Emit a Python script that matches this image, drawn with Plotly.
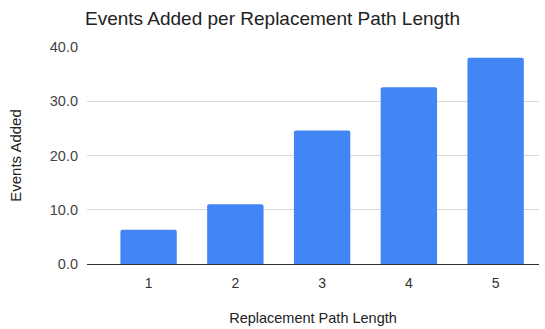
import plotly.graph_objects as go

# Chart data
path_lengths = ["1", "2", "3", "4", "5"]
events_added = [6.3, 11.0, 24.6, 32.6, 38.0]
y_tick_values = [0, 10, 20, 30, 40]

FONT = "Liberation Sans, Arial, sans-serif"

fig = go.Figure(
    go.Bar(
        x=[int(v) for v in path_lengths],
        y=events_added,
        marker=dict(color="#4285F4", line=dict(width=0), cornerradius=2),
        width=0.65,
        hoverinfo="x+y",
    )
)

fig.update_layout(
    width=545,
    height=329,
    margin=dict(l=87, r=6, t=47, b=61),
    paper_bgcolor="white",
    plot_bgcolor="white",
    showlegend=False,
    font=dict(family=FONT, size=14, color="#444444"),
    title=dict(
        text="Events Added per Replacement Path Length",
        x=0.5,
        xanchor="center",
        y=0.945,
        yanchor="middle",
        font=dict(family=FONT, size=19, color="#222222"),
    ),
    xaxis=dict(
        range=[0.29, 5.5],
        tickvals=[int(v) for v in path_lengths],
        ticktext=path_lengths,
        showgrid=False,
        zeroline=False,
        showline=False,
        ticks="",
        ticklabelstandoff=9,
        tickfont=dict(size=14, color="#333333"),
        title=dict(text="Replacement Path Length", standoff=22,
                   font=dict(size=14.5, color="#222222")),
    ),
    yaxis=dict(
        range=[0, 40],
        tickvals=y_tick_values,
        tickformat=".1f",
        showgrid=True,
        gridcolor="#d9d9d9",
        gridwidth=1,
        zeroline=True,
        zerolinecolor="#333333",
        zerolinewidth=1,
        showline=False,
        ticks="",
        ticklabelstandoff=8,
        tickfont=dict(size=14.5, color="#444444"),
        title=dict(text="Events Added", standoff=24,
                   font=dict(size=15, color="#222222")),
    ),
)

fig.write_html("out.html")
